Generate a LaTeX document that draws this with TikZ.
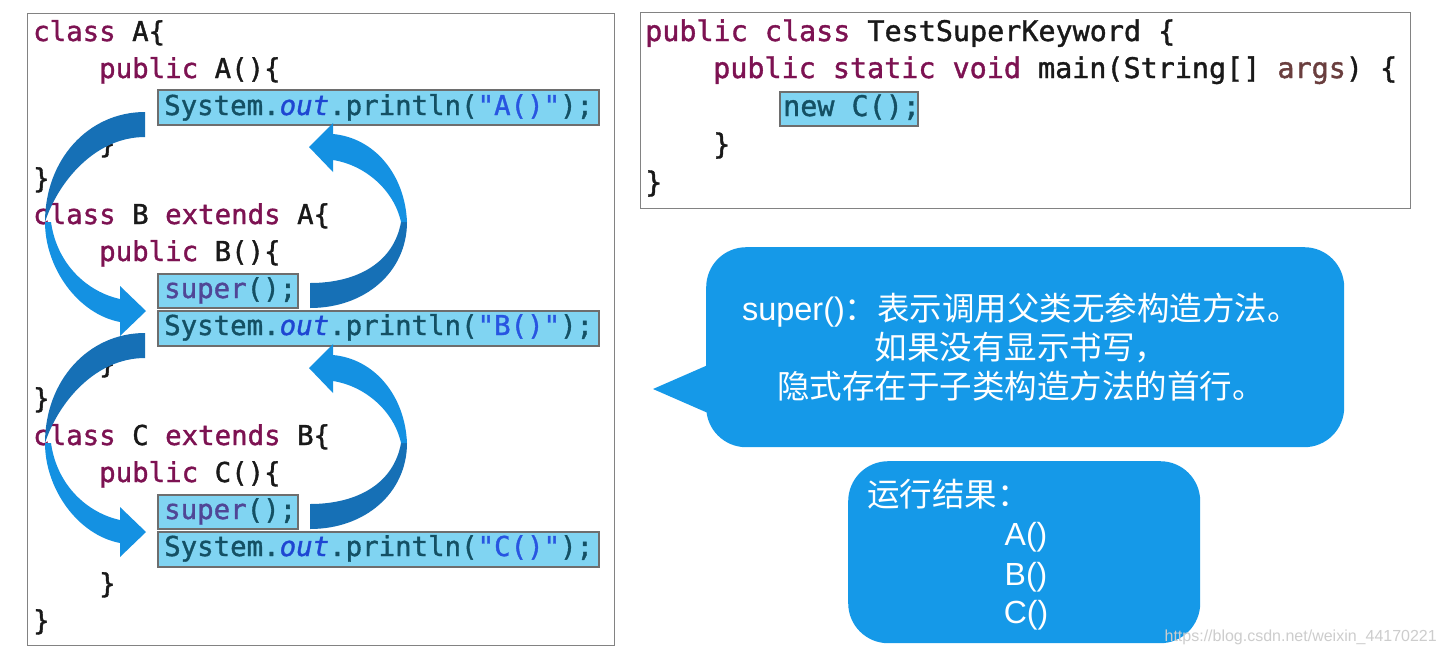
\documentclass[tikz,border=0pt]{standalone}
\usepackage{fontspec}
\setmainfont{Liberation Sans}
\newfontfamily\codefont[FakeBold=1.3]{DejaVu Sans Mono}
\newfontfamily\cjkfont{Noto Sans CJK SC}
\newfontfamily\latinfont{Liberation Sans}
\definecolor{kwcol}{RGB}{125,18,82}
\definecolor{codeblack}{RGB}{25,25,25}
\definecolor{argcol}{RGB}{106,62,62}
\definecolor{hlfill}{RGB}{128,212,242}
\definecolor{hlborder}{RGB}{110,110,110}
\definecolor{hltext}{RGB}{20,80,100}
\definecolor{outcol}{RGB}{30,70,210}
\definecolor{strcol}{RGB}{40,85,225}
\definecolor{supcol}{RGB}{80,70,150}
\definecolor{boxborder}{RGB}{130,130,130}
\definecolor{bluefill}{RGB}{21,153,232}
\definecolor{arrlight}{RGB}{20,145,226}
\definecolor{arrdark}{RGB}{22,112,182}
\definecolor{wmgray}{RGB}{205,205,205}
\newcommand\kw[1]{\textcolor{kwcol}{#1}}
\begin{document}
\begin{tikzpicture}[x=1pt,y=-1pt,
  code/.style={font=\codefont\fontsize{27.4}{33}\selectfont, inner sep=0pt, anchor=base west, text=codeblack},
  rcode/.style={font=\codefont\fontsize{28.4}{34}\selectfont, inner sep=0pt, anchor=base west, text=codeblack},
  hlbox/.style={draw=hlborder, line width=1.5pt, fill=hlfill, inner sep=0pt, anchor=north west},
  hltxt/.style={code, text=hltext},
  panel/.style={draw=boxborder, line width=1.2pt, fill=white, inner sep=0pt, anchor=north west},
  bluebox/.style={fill=bluefill, rounded corners=40pt, inner sep=0pt, anchor=north west},
  wtext/.style={text=white, inner sep=0pt, font=\cjkfont\fontsize{32.5}{39}\selectfont},
  rlat/.style={wtext, font=\latinfont\fontsize{32}{39}\selectfont},
  darkarr/.style={fill=arrdark},
  lightarr/.style={fill=arrlight}]
\useasboundingbox (0,0) rectangle (1442,657);
\fill[white] (0,0) rectangle (1442,657);

% panels
\node[panel, minimum width=587pt, minimum height=632pt] (left) at (27,13) {};
\node[panel, minimum width=770pt, minimum height=196pt] (right) at (640,12) {};

% highlight boxes
\node[hlbox, minimum width=441pt, minimum height=35pt] (hA) at (157,89) {};
\node[hlbox, minimum width=140pt, minimum height=34pt] (sB) at (157,273) {};
\node[hlbox, minimum width=441pt, minimum height=35pt] (hB) at (157,310) {};
\node[hlbox, minimum width=140pt, minimum height=34pt] (sC) at (157,494) {};
\node[hlbox, minimum width=441pt, minimum height=35pt] (hC) at (157,531) {};
\node[hlbox, minimum width=138pt, minimum height=34pt] (hN) at (779,91) {};

% left code
\node[code] (l1) at (33,41) {\kw{class} A\{};
\node[code] (l2) at (99,78) {\kw{public} A()\{};
\node[hltxt] (l3) at (164,115) {System.\textcolor{outcol}{\itshape out}.println(\textcolor{strcol}{"A()"});};
\node[code] (l4) at (99,153) {\}};
\node[code] (l5) at (33,188) {\}};
\node[code] (l6) at (33,224) {\kw{class} B \kw{extends} A\{};
\node[code] (l7) at (99,261) {\kw{public} B()\{};
\node[hltxt] (l8) at (164,298) {\textcolor{supcol}{super}();};
\node[hltxt] (l9) at (164,335) {System.\textcolor{outcol}{\itshape out}.println(\textcolor{strcol}{"B()"});};
\node[code] (l10) at (99,373) {\}};
\node[code] (l11) at (33,408) {\}};
\node[code] (l12) at (33,445) {\kw{class} C \kw{extends} B\{};
\node[code] (l13) at (99,482) {\kw{public} C()\{};
\node[hltxt] (l14) at (164,519) {\textcolor{supcol}{super}();};
\node[hltxt] (l15) at (164,556) {System.\textcolor{outcol}{\itshape out}.println(\textcolor{strcol}{"C()"});};
\node[code] (l16) at (99,593) {\}};
\node[code] (l17) at (33,630) {\}};

% right code
\node[rcode] (r1) at (645,41) {\kw{public} \kw{class} TestSuperKeyword \{};
\node[rcode] (r2) at (713,78) {\kw{public} \kw{static} \kw{void} main(String[] \textcolor{argcol}{args}) \{};
\node[rcode, text=hltext] (r3) at (783,116) {new C();};
\node[rcode] (r4) at (713,154) {\}};
\node[rcode] (r5) at (645,192) {\}};

% curved block arrows
\foreach \dy in {0,221}{
\begin{scope}[shift={(0,\dy)}]
  % left arrow (down, pointing right)
  \fill[darkarr] (145,112) .. controls (88,112) and (45,160) .. (45,222)
     .. controls (58,182) and (95,137) .. (145,137) -- cycle;
  \fill[lightarr] (45,222) .. controls (45,268) and (78,314) .. (120,322)
     -- (120,336) -- (146,311) -- (120,286) -- (120,299)
     .. controls (88,292) and (57,265) .. (51,222) -- cycle;
  % right arrow (up, pointing left)
  \fill[darkarr] (407,222) .. controls (407,272) and (365,308) .. (310,308)
     -- (310,283) .. controls (358,283) and (394,262) .. (401,222) -- cycle;
  \fill[lightarr] (407,222) .. controls (405,175) and (375,138) .. (333,134)
     -- (333,123) -- (309,147) -- (333,172) -- (333,160)
     .. controls (365,165) and (394,190) .. (401,222) -- cycle;
\end{scope}
}

% speech bubble
\node[bluebox, minimum width=638pt, minimum height=200pt] (bubble) at (706,247) {};
\fill[bluefill] (708,365) -- (653,389) -- (708,413) -- cycle;
\node[wtext, align=center] (btext) at (1021,347) {{\latinfont super()}：表示调用父类无参构造方法。\\如果没有显示书写，\\隐式存在于子类构造方法的首行。};

% result box
\node[bluebox, minimum width=352pt, minimum height=182pt] (result) at (848,461) {};
\node[wtext, anchor=west] (rtitle) at (867,494) {运行结果：};
\node[rlat] (ra) at (1026,537) {A()};
\node[rlat] (rb) at (1026,577) {B()};
\node[rlat] (rc) at (1026,615) {C()};

% watermark
\node[anchor=east, inner sep=0pt, text=wmgray, font=\latinfont\fontsize{16}{19}\selectfont] (wm) at (1437,637) {https://blog.csdn.net/weixin\_44170221};
\end{tikzpicture}
\end{document}
